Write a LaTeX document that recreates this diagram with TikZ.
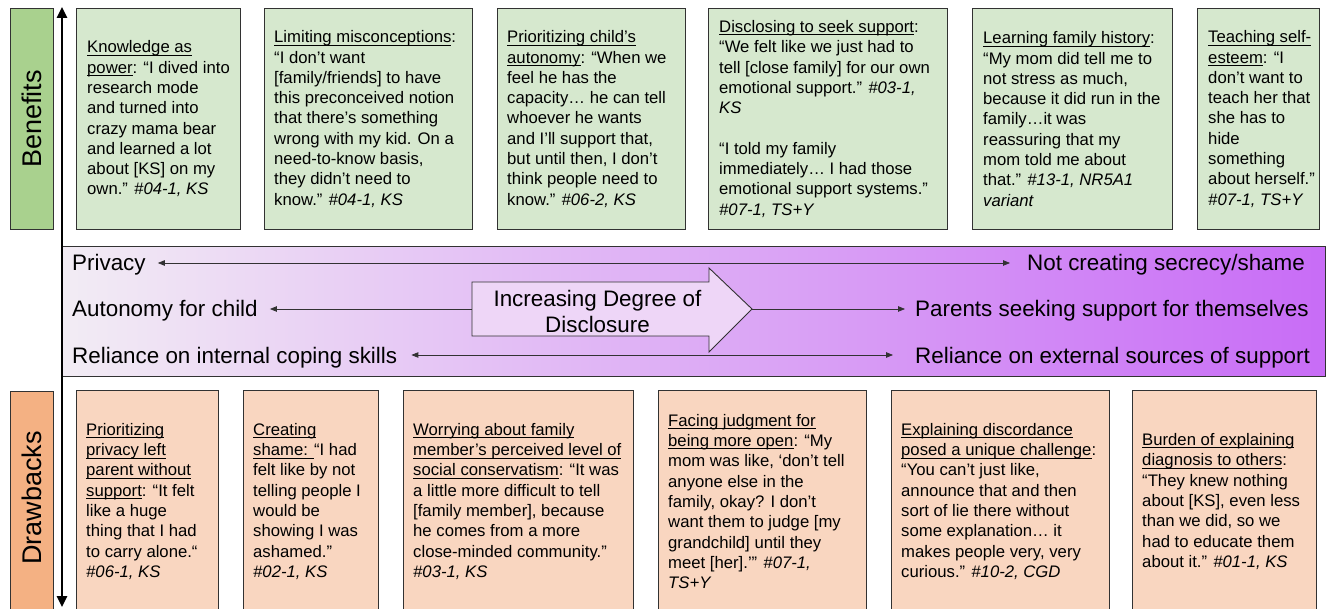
\documentclass[tikz,border=0pt]{standalone}
\usepackage{fontspec}
\setmainfont{Liberation Sans}
\usetikzlibrary{arrows.meta}
\definecolor{topfill}{RGB}{214,232,206}
\definecolor{botfill}{RGB}{249,214,192}
\definecolor{benfill}{RGB}{169,209,142}
\definecolor{drwfill}{RGB}{244,177,131}
\definecolor{edge}{RGB}{50,50,50}
\definecolor{bandL}{RGB}{242,236,244}
\definecolor{bandR}{RGB}{200,108,246}
\definecolor{arrowfill}{RGB}{238,214,247}
\newcommand{\und}[1]{\setbox0=\hbox{#1}\rlap{\rule[-2.8pt]{\wd0}{0.9pt}}\box0}
\tikzset{
  cardbox/.style={draw=edge, line width=0.9pt, anchor=north west, inner sep=0pt},
  topcard/.style={cardbox, fill=topfill, minimum height=221pt},
  botcard/.style={cardbox, fill=botfill, minimum height=222pt},
  quote/.style={anchor=west, align=left, inner sep=0pt, font=\fontsize{16.7}{20.3}\selectfont},
  sidelabel/.style={cardbox, minimum width=43pt},
  sidetext/.style={rotate=90, inner sep=0pt, font=\fontsize{27}{30}\selectfont},
  bandtext/.style={inner sep=0pt, text height=16pt, text depth=0pt, font=\fontsize{22.4}{26}\selectfont},
  thin arrow/.style={draw=edge, line width=0.8pt, {Triangle[length=7pt,width=5.5pt]}-{Triangle[length=7pt,width=5.5pt]}},
  right thin/.style={draw=edge, line width=0.8pt, -{Triangle[length=7pt,width=5.5pt]}},
}
\begin{document}
\begin{tikzpicture}[x=1pt,y=-1pt]
\useasboundingbox (0,0) rectangle (1327,609);
\begin{scope}
\clip (0,0) rectangle (1327,609);
% side labels
\node[sidelabel, fill=benfill, minimum height=221pt] (ben) at (10,8) {};
\node[sidetext] at (ben.center) {Benefits};
\node[sidelabel, fill=drwfill, minimum height=222pt] (drw) at (10,391) {};
\node[sidetext] at ([yshift=4.5pt]drw.center) {Drawbacks};

% top cards
\node[topcard, minimum width=164pt] (t1) at (76,8) {};
\node[quote] (t1q) at ([xshift=11pt]t1.west) {\und{Knowledge as}\\
\und{power}: “I dived into\\
research mode\\
and turned into\\
crazy mama bear\\
and learned a lot\\
about [KS] on my\\
own.” \textit{\#04-1, KS}};

\node[topcard, minimum width=208pt] (t2) at (264,8) {};
\node[quote] (t2q) at ([xshift=10pt]t2.west) {\und{Limiting misconceptions}:\\
“I don’t want\\
{}[family/friends] to have\\
this preconceived notion\\
that there’s something\\
wrong with my kid. On a\\
need-to-know basis,\\
they didn’t need to\\
know.” \textit{\#04-1, KS}};

\node[topcard, minimum width=188pt] (t3) at (497,8) {};
\node[quote] (t3q) at ([xshift=10pt]t3.west) {\und{Prioritizing child’s}\\
\und{autonomy}: “When we\\
feel he has the\\
capacity… he can tell\\
whoever he wants\\
and I’ll support that,\\
but until then, I don’t\\
think people need to\\
know.” \textit{\#06-2, KS}};

\node[topcard, minimum width=239pt] (t4) at (708,8) {};
\node[quote] (t4q) at ([xshift=11pt]t4.west) {\und{Disclosing to seek support}:\\
“We felt like we just had to\\
tell [close family] for our own\\
emotional support.” \textit{\#03-1,}\\
\textit{KS}\\[20.3pt]
“I told my family\\
immediately… I had those\\
emotional support systems.”\\
\textit{\#07-1, TS+Y}};

\node[topcard, minimum width=200pt] (t5) at (972,8) {};
\node[quote] (t5q) at ([xshift=11pt]t5.west) {\und{Learning family history}:\\
“My mom did tell me to\\
not stress as much,\\
because it did run in the\\
family…it was\\
reassuring that my\\
mom told me about\\
that.” \textit{\#13-1, NR5A1}\\
\textit{variant}};

\node[topcard, minimum width=122pt] (t6) at (1197,8) {};
\node[quote] (t6q) at ([xshift=11pt]t6.west) {\und{Teaching self-}\\
\und{esteem}: “I\\
don’t want to\\
teach her that\\
she has to\\
hide\\
something\\
about herself.”\\
\textit{\#07-1, TS+Y}};

% bottom cards
\node[botcard, minimum width=142pt] (b1) at (76,390) {};
\node[quote] (b1q) at ([xshift=10pt]b1.west) {\und{Prioritizing}\\
\und{privacy left}\\
\und{parent without}\\
\und{support}: “It felt\\
like a huge\\
thing that I had\\
to carry alone.“\\
\textit{\#06-1, KS}};

\node[botcard, minimum width=135pt] (b2) at (243,390) {};
\node[quote] (b2q) at ([xshift=10pt]b2.west) {\und{Creating}\\
\und{shame: }“I had\\
felt like by not\\
telling people I\\
would be\\
showing I was\\
ashamed.”\\
\textit{\#02-1, KS}};

\node[botcard, minimum width=230pt] (b3) at (403,390) {};
\node[quote] (b3q) at ([xshift=10pt]b3.west) {\und{Worrying about family}\\
\und{member’s perceived level of}\\
\und{social conservatism}: “It was\\
a little more difficult to tell\\
{}[family member], because\\
he comes from a more\\
close-minded community.”\\
\textit{\#03-1, KS}};

\node[botcard, minimum width=208pt] (b4) at (658,390) {};
\node[quote] (b4q) at ([xshift=10pt]b4.west) {\und{Facing judgment for}\\
\und{being more open}: “My\\
mom was like, ‘don’t tell\\
anyone else in the\\
family, okay? I don’t\\
want them to judge [my\\
grandchild] until they\\
meet [her].’” \textit{\#07-1,}\\
\textit{TS+Y}};

\node[botcard, minimum width=218pt] (b5) at (891,390) {};
\node[quote] (b5q) at ([xshift=10pt]b5.west) {\und{Explaining discordance}\\
\und{posed a unique challenge}:\\
“You can’t just like,\\
announce that and then\\
sort of lie there without\\
some explanation… it\\
makes people very, very\\
curious.” \textit{\#10-2, CGD}};

\node[botcard, minimum width=184pt] (b6) at (1132,390) {};
\node[quote] (b6q) at ([xshift=10pt]b6.west) {\und{Burden of explaining}\\
\und{diagnosis to others}:\\
“They knew nothing\\
about [KS], even less\\
than we did, so we\\
had to educate them\\
about it.” \textit{\#01-1, KS}};

% band
\node[draw=edge, line width=0.9pt, left color=bandL, right color=bandR, anchor=north west, inner sep=0pt, minimum width=1263pt, minimum height=130pt] (band) at (62,246) {};

% vertical axis arrow
\coordinate (vtop) at (62,7);
\coordinate (vbot) at (62,607);
\draw[line width=2.6pt, {Triangle[length=11pt,width=10pt]}-{Triangle[length=11pt,width=10pt]}] (vtop) -- (vbot);

% block arrow
\draw[draw=edge, line width=0.9pt, fill=arrowfill] (472,282) -- (709,282) -- (709,268) -- (752,309) -- (709,352) -- (709,336) -- (472,336) -- cycle;
\coordinate (atail) at (472,309);
\coordinate (atip) at (752,309);
\node[align=center, inner sep=0pt, font=\fontsize{22.4}{26}\selectfont] (atext) at (597.5,311) {Increasing Degree of\\Disclosure};

% band texts
\node[bandtext, anchor=west] (privL) at (72,263) {Privacy};
\node[bandtext, anchor=west] (privR) at (1027,263) {Not creating secrecy/shame};
\node[bandtext, anchor=west] (autL) at (72,309) {Autonomy for child};
\node[bandtext, anchor=west] (autR) at (915,309) {Parents seeking support for themselves};
\node[bandtext, anchor=west] (relL) at (72,355) {Reliance on internal coping skills};
\node[bandtext, anchor=west] (relR) at (915,355) {Reliance on external sources of support};

\draw[thin arrow, shorten <=12pt, shorten >=17pt] (privL.east) -- (privR.west);
\draw[right thin, shorten >=12pt] (atail) -- (autL.east);
\draw[right thin, shorten >=10pt] (atip) -- (autR.west);
\draw[thin arrow, shorten <=14pt, shorten >=22pt] (relL.east) -- (relR.west);
\end{scope}
\end{tikzpicture}
\end{document}
